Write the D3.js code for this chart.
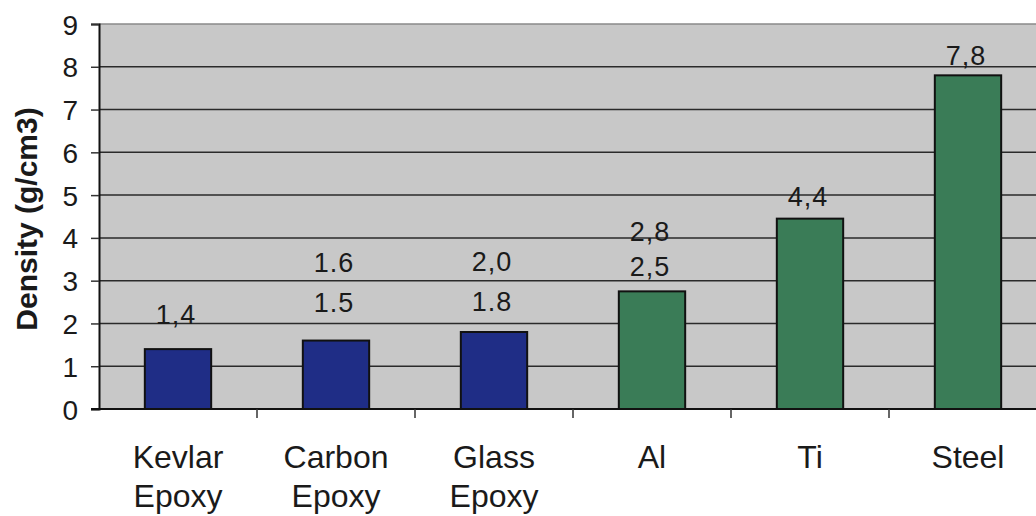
<!DOCTYPE html>
<html lang="en">
<head>
<meta charset="UTF-8"/>
<title>Density chart</title>
<script src="https://d3js.org/d3.v7.min.js"></script>
<style>
    body { margin: 0; background-color: white; }
    svg  { display: block; font-family: Arial, "Liberation Sans", sans-serif; }
</style>
</head>
<body>
<script>
// data
var categories = ["Kevlar Epoxy", "Carbon Epoxy", "Glass Epoxy", "Al", "Ti", "Steel"];
var densities  = [1.4, 1.6, 1.8, 2.75, 4.45, 7.8];
var groups     = ["composite", "composite", "composite", "metal", "metal", "metal"];
// value labels, lowest line first
var valueLabels = [["1,4"], ["1.5", "1.6"], ["1.8", "2,0"], ["2,5", "2,8"], ["4,4"], ["7,8"]];
var yTicks = [0, 1, 2, 3, 4, 5, 6, 7, 8, 9];

//width and height
var w = 1036;
var h = 516;
var plotL = 99, plotT = 24, plotB = 409, plotR = 1047;

var svg = d3.select("body")
            .append("svg")
            .attr("width", w)
            .attr("height", h);

var x = d3.scaleBand()
            .domain(categories)
            .range([plotL, plotR])
            .padding(0);

var y = d3.scaleLinear()
            .domain([0, 9])
            .range([plotB, plotT]);

var color = d3.scaleOrdinal()
            .domain(["composite", "metal"])
            .range(["#1f2d86", "#3a7c57"]);

// plot area
svg.append("rect")
    .attr("x", plotL)
    .attr("y", plotT)
    .attr("width", plotR - plotL)
    .attr("height", plotB - plotT)
    .style("fill", "#c8c8c8");

// gridlines
svg.selectAll("line.grid")
    .data(yTicks.filter(function(d){ return d > 0; }))
    .enter()
    .append("line")
    .attr("class", "grid")
    .attr("x1", plotL)
    .attr("x2", plotR)
    .attr("y1", function(d){ return y(d); })
    .attr("y2", function(d){ return y(d); })
    .style("stroke", function(d){ return d == 9 ? "#8a8a8a" : "#2a2a2a"; })
    .style("stroke-width", 1.5);

// bars
var barW = x.bandwidth() * 0.42;
svg.selectAll("rect.bar")
    .data(categories)
    .enter()
    .append("rect")
    .attr("class", "bar")
    .attr("x", function(d){ return x(d) + (x.bandwidth() - barW) / 2; })
    .attr("y", function(d, i){ return y(densities[i]); })
    .attr("width", barW)
    .attr("height", function(d, i){ return y(0) - y(densities[i]); })
    .style("fill", function(d, i){ return color(groups[i]); })
    .style("stroke", "#111")
    .style("stroke-width", 2);

// value labels (pixels above bar top for each line)
var lift = [[25], [29, 69], [21, 61], [15, 50], [13], [10]];
categories.forEach(function(c, i){
    valueLabels[i].forEach(function(t, j){
        svg.append("text")
            .attr("x", x(c) + x.bandwidth() / 2 - 2)
            .attr("y", y(densities[i]) - lift[i][j])
            .attr("text-anchor", "middle")
            .style("font-size", "27px")
            .style("letter-spacing", "1px")
            .style("fill", "#1a1a1a")
            .text(t);
    });
});

// y axis
var yAxis = d3.axisLeft(y)
                .tickValues(yTicks)
                .tickSize(8)
                .tickPadding(13);
var gy = svg.append("g")
    .attr("transform", "translate(" + plotL + ",0)")
    .call(yAxis);
gy.select(".domain").style("stroke", "#111").style("stroke-width", 2);
gy.selectAll(".tick line").style("stroke", "#333").style("stroke-width", 1.5);
gy.selectAll(".tick text")
    .style("font-size", "28px")
    .style("fill", "#1a1a1a")
    .attr("dy", "0.36em");

// x axis
svg.append("line")
    .attr("x1", plotL - 8)
    .attr("x2", plotR)
    .attr("y1", plotB)
    .attr("y2", plotB)
    .style("stroke", "#111")
    .style("stroke-width", 2);

svg.selectAll("line.xtick")
    .data(categories.slice(1))
    .enter()
    .append("line")
    .attr("class", "xtick")
    .attr("x1", function(d){ return x(d); })
    .attr("x2", function(d){ return x(d); })
    .attr("y1", plotB)
    .attr("y2", plotB + 9)
    .style("stroke", "#333")
    .style("stroke-width", 1.5);

var xl = svg.selectAll("text.xlab")
    .data(categories)
    .enter()
    .append("text")
    .attr("class", "xlab")
    .attr("text-anchor", "middle")
    .attr("x", function(d){ return x(d) + x.bandwidth() / 2; })
    .attr("y", 468)
    .style("font-size", "32px")
    .style("fill", "#1a1a1a");

xl.selectAll("tspan")
    .data(function(d){ return d.split(" "); })
    .enter()
    .append("tspan")
    .attr("x", function(){ return d3.select(this.parentNode).attr("x"); })
    .attr("dy", function(d, i){ return i == 0 ? 0 : 39; })
    .text(function(d){ return d; });

// y title
svg.append("text")
    .attr("transform", "translate(37,219) rotate(-90)")
    .attr("text-anchor", "middle")
    .style("font-size", "30px")
    .style("font-weight", "bold")
    .style("fill", "#1a1a1a")
    .text("Density (g/cm3)");
</script>
</body>
</html>
